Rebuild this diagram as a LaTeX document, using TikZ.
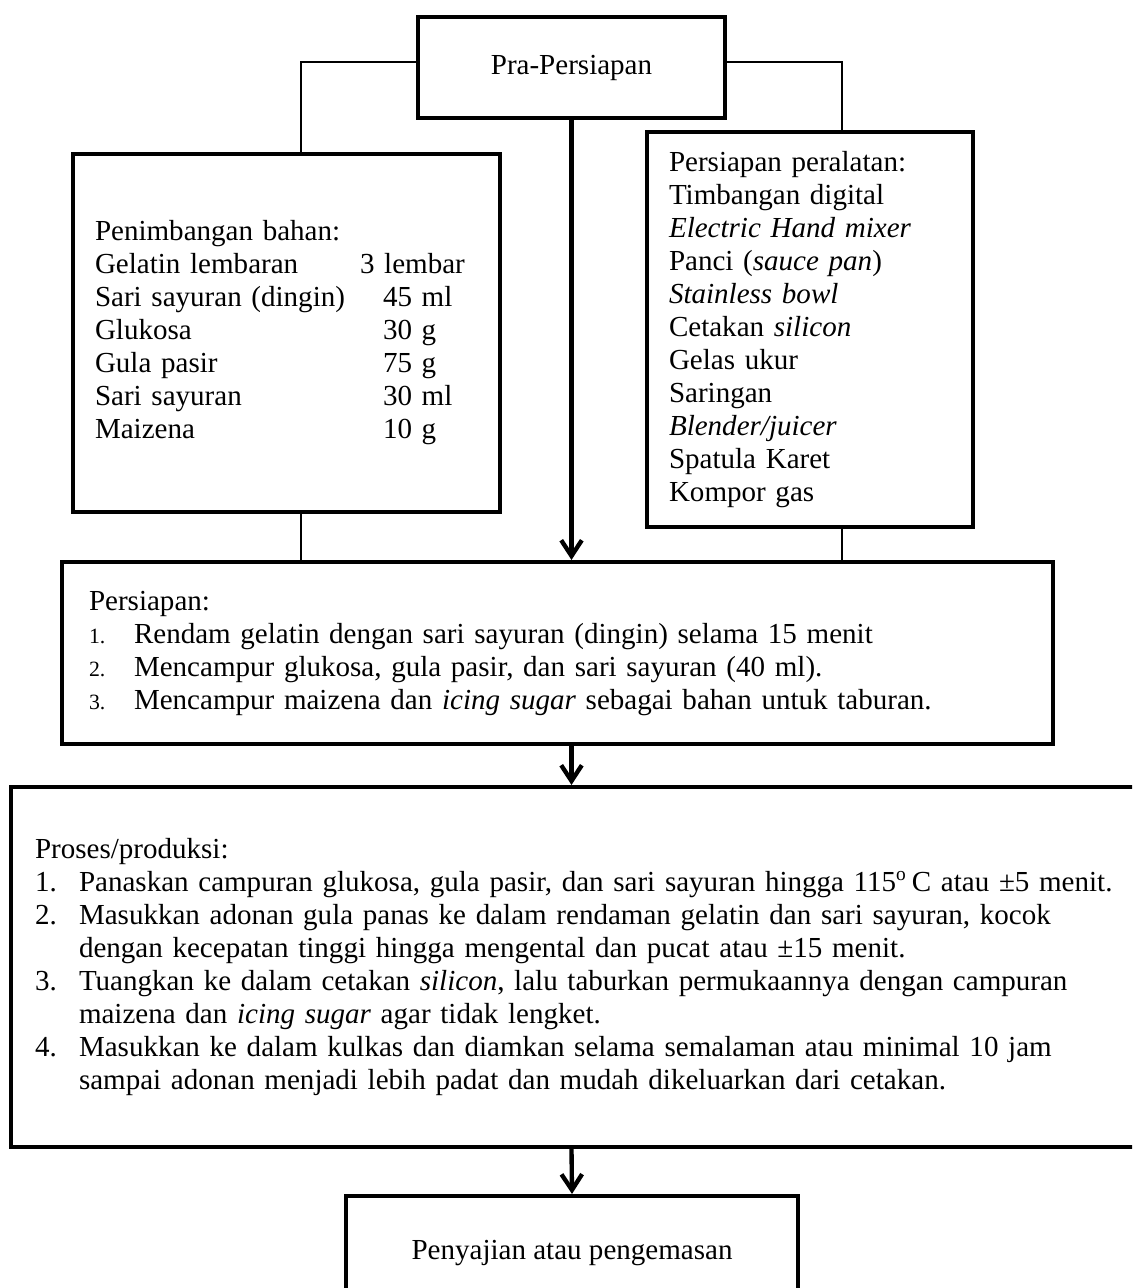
\documentclass[tikz,border=0pt]{standalone}
\usepackage{fontspec}
\setmainfont{Liberation Serif}
\usetikzlibrary{arrows.meta}
\newdimen\pxu
\pxu=0.4132pt
\tikzset{
  kotak/.style={draw, rectangle, line width=1.7pt, align=left, font=\fontsize{12}{13.64}\selectfont},
  garis/.style={line width=0.6pt},
  panah/.style={line width=1.8pt, -{Straight Barb[length=6.5pt, width=8.5pt]}}
}
\begin{document}
\begin{tikzpicture}[x=0.4132pt, y=-0.4132pt]
	\clip (0,0) rectangle (1132,1288);
	\useasboundingbox (0,0) rectangle (1132,1288);
	% kotak-kotak
	\node[kotak, minimum width=307\pxu, minimum height=101\pxu] (pra) at (571.5,67.5) {Pra-Persiapan};
	\node[kotak, minimum width=427\pxu, minimum height=358\pxu, inner xsep=22\pxu, text width=383\pxu] (bahan) at (286.5,333) {%
		\begin{tabular}{@{}p{265\pxu}@{}l@{}}
			Penimbangan bahan: & \\
			Gelatin lembaran & 3 lembar\\
			Sari sayuran (dingin) & \hspace{23\pxu}45 ml\\
			Glukosa & \hspace{23\pxu}30 g\\
			Gula pasir & \hspace{23\pxu}75 g\\
			Sari sayuran & \hspace{23\pxu}30 ml\\
			Maizena & \hspace{23\pxu}10 g
		\end{tabular}};
	\node[kotak, minimum width=326\pxu, minimum height=395\pxu, inner xsep=22\pxu, text width=282\pxu] (alat) at (810,329.5) {%
		Persiapan peralatan:\\
		Timbangan digital\\
		\textit{Electric Hand mixer}\\
		Panci (\textit{sauce pan})\\
		\textit{Stainless bowl}\\
		Cetakan \textit{silicon}\\
		Gelas ukur\\
		Saringan\\
		\textit{Blender/juicer}\\
		Spatula Karet\\
		Kompor gas};
	\node[kotak, minimum width=991\pxu, minimum height=182\pxu, inner xsep=27\pxu, text width=937\pxu] (siap) at (557.5,653) {%
		\begin{tabular}{@{}p{45\pxu}@{}l@{}}
			\multicolumn{2}{@{}l}{Persiapan:}\\
			{\small 1.} & Rendam gelatin dengan sari sayuran (dingin) selama 15 menit\\
			{\small 2.} & Mencampur glukosa, gula pasir, dan sari sayuran (40 ml).\\
			{\small 3.} & Mencampur maizena dan \textit{icing sugar} sebagai bahan untuk taburan.
		\end{tabular}};
	\node[kotak, minimum width=1139\pxu, minimum height=360\pxu, inner xsep=24\pxu, text width=1091\pxu] (proses) at (580.5,967) {%
		\begin{tabular}{@{}p{44\pxu}@{}l@{}}
			\multicolumn{2}{@{}l}{Proses/produksi:}\\
			1. & Panaskan campuran glukosa, gula pasir, dan sari sayuran hingga 115\textsuperscript{o}\,C atau ±5 menit.\\
			2. & Masukkan adonan gula panas ke dalam rendaman gelatin dan sari sayuran, kocok\\
			   & dengan kecepatan tinggi hingga mengental dan pucat atau ±15 menit.\\
			3. & Tuangkan ke dalam cetakan \textit{silicon}, lalu taburkan permukaannya dengan campuran\\
			   & maizena dan \textit{icing sugar} agar tidak lengket.\\
			4. & Masukkan ke dalam kulkas dan diamkan selama semalaman atau minimal 10 jam\\
			   & sampai adonan menjadi lebih padat dan mudah dikeluarkan dari cetakan.
		\end{tabular}};
	\node[kotak, minimum width=452\pxu, minimum height=114\pxu] (saji) at (572,1253) {Penyajian atau pengemasan};
	% garis penghubung
	\coordinate (kiri) at (301,62);
	\coordinate (kanan) at (842,62);
	\draw[garis] (pra.west |- kiri) -- (kiri) -- (kiri |- bahan.north);
	\draw[garis] (pra.east |- kanan) -- (kanan) -- (kanan |- alat.north);
	\draw[garis] (kiri |- bahan.south) -- (kiri |- siap.north);
	\draw[garis] (kanan |- alat.south) -- (kanan |- siap.north);
	% panah
	\draw[panah] (pra.south) -- (pra.south |- siap.north);
	\draw[panah] (pra.south |- siap.south) -- (pra.south |- proses.north);
	\draw[panah] (pra.south |- proses.south) -- (saji.north);
\end{tikzpicture}
\end{document}
